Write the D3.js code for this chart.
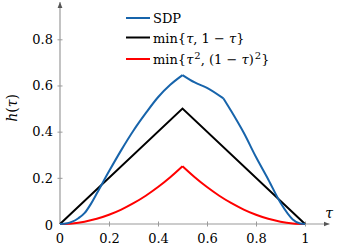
<!DOCTYPE html>
<html>
<head>
<meta charset="utf-8">
<script src="https://cdn.jsdelivr.net/npm/d3@7"></script>
<style>
  body { margin: 0; background: #fff; }
  svg text { font-family: "DejaVu Serif", serif; }
</style>
</head>
<body>
<div id="chart"></div>
<script>
let width = 346,
    height = 247;

// curves
const sdpTau = [0, 0.03, 0.05, 0.075, 0.1, 0.125, 0.15, 0.2, 0.25, 0.3, 0.35, 0.4, 0.45, 0.5, 0.55, 0.6, 0.667, 0.7, 0.75, 0.8, 0.85, 0.9, 0.95, 0.98, 1];
const sdpVal = [0, 0.003, 0.01, 0.025, 0.047, 0.085, 0.132, 0.228, 0.32, 0.405, 0.48, 0.549, 0.603, 0.645, 0.613, 0.59, 0.544, 0.487, 0.395, 0.29, 0.193, 0.092, 0.02, 0.002, 0];
const sdpBreaks = [0.5, 0.667];

const linTau = [0, 0.5, 1];
const linVal = [0, 0.5, 0];

const sqTau = [0, 0.05, 0.1, 0.15, 0.2, 0.25, 0.3, 0.35, 0.4, 0.45, 0.5, 0.55, 0.6, 0.65, 0.7, 0.75, 0.8, 0.85, 0.9, 0.95, 1];
const sqVal = [0, 0.0025, 0.01, 0.0225, 0.04, 0.0625, 0.09, 0.1225, 0.16, 0.2025, 0.25, 0.2025, 0.16, 0.1225, 0.09, 0.0625, 0.04, 0.0225, 0.01, 0.0025, 0];
const sqBreaks = [0.5];

const xTicks = [0, 0.2, 0.4, 0.6, 0.8, 1];
const xTickLabels = ["0", "0.2", "0.4", "0.6", "0.8", "1"];
const yTicks = [0, 0.2, 0.4, 0.6, 0.8];
const yTickLabels = ["0", "0.2", "0.4", "0.6", "0.8"];

const seriesNames = ["SDP", "lin", "sq"];
const seriesColors = ["#1764ab", "#000000", "#ff0000"];

const svg = d3.select("#chart")
  .append("svg")
  .attr("width", width)
  .attr("height", height);

let x = d3.scaleLinear()
  .domain([0, 1])
  .range([60, 305]);

let y = d3.scaleLinear()
  .domain([0, 0.8])
  .range([224, 39.3]);

const axisColor = "#9a9a9a";

// arrow heads
svg.append("defs").append("marker")
  .attr("id", "arrow")
  .attr("viewBox", "0 0 10 10")
  .attr("refX", 10)
  .attr("refY", 5)
  .attr("markerWidth", 6)
  .attr("markerHeight", 6)
  .attr("markerUnits", "userSpaceOnUse")
  .attr("orient", "auto")
  .append("path")
  .attr("d", "M0,1 L10,5 L0,9 Z")
  .attr("fill", "#555");

// axes
let xAxis = svg.append("g")
  .attr("transform", `translate(0,${y(0)})`)
  .call(d3.axisBottom(x).tickValues(xTicks).tickSize(0)
    .tickFormat((d, i) => xTickLabels[i]));

let yAxis = svg.append("g")
  .attr("transform", `translate(${x(0)},0)`)
  .call(d3.axisLeft(y).tickValues(yTicks).tickSize(0)
    .tickFormat((d, i) => yTickLabels[i]));

svg.selectAll(".domain").remove();
xAxis.attr("font-family", null);
yAxis.attr("font-family", null);
xAxis.selectAll("text").attr("dy", null).attr("y", 19).attr("font-size", 13).attr("fill", "#000");
yAxis.selectAll("text").attr("dy", "0.33em").attr("x", -7).attr("font-size", 13).attr("fill", "#000");
xAxis.select(".tick:first-of-type text").remove();
yAxis.select(".tick:first-of-type text").attr("y", 1);

// tick marks centred on the axes
xAxis.selectAll(".tick:not(:first-of-type) line")
  .attr("y1", -2.5).attr("y2", 2.5).attr("stroke", axisColor);
yAxis.selectAll(".tick:not(:first-of-type) line")
  .attr("x1", -2.5).attr("x2", 2.5).attr("stroke", axisColor);

// 0 label under the origin
svg.append("text")
  .attr("x", x(0))
  .attr("y", y(0) + 19)
  .attr("text-anchor", "middle")
  .attr("font-size", 13)
  .text("0");

svg.append("line")
  .attr("x1", x(0)).attr("y1", y(0))
  .attr("x2", x(1.1)).attr("y2", y(0))
  .attr("stroke", axisColor)
  .attr("stroke-width", 1.2)
  .attr("marker-end", "url(#arrow)");

svg.append("line")
  .attr("x1", x(0)).attr("y1", y(0))
  .attr("x2", x(0)).attr("y2", 2)
  .attr("stroke", axisColor)
  .attr("stroke-width", 1.2)
  .attr("marker-end", "url(#arrow)");

// curves, smoothed piece by piece so the corners stay sharp
let smooth = d3.line()
  .x(d => x(d[0]))
  .y(d => y(d[1]))
  .curve(d3.curveMonotoneX);

let straight = d3.line()
  .x(d => x(d[0]))
  .y(d => y(d[1]));

function pieces(taus, vals, breaks) {
  let pts = d3.zip(taus, vals);
  let edges = [0, ...breaks, 1];
  let out = [];
  for (let i = 0; i < edges.length - 1; i++) {
    out.push(pts.filter(p => p[0] >= edges[i] && p[0] <= edges[i + 1]));
  }
  return out;
}

function drawCurve(d, color) {
  svg.append("path")
    .attr("d", d)
    .attr("fill", "none")
    .attr("stroke", color)
    .attr("stroke-width", 2)
    .attr("stroke-linejoin", "miter");
}

drawCurve(pieces(sqTau, sqVal, sqBreaks).map(s => smooth(s)).join(""), seriesColors[2]);
drawCurve(straight(d3.zip(linTau, linVal)), seriesColors[1]);
drawCurve(pieces(sdpTau, sdpVal, sdpBreaks).map(s => smooth(s)).join(""), seriesColors[0]);

// axis labels
svg.append("text")
  .attr("x", 329)
  .attr("y", 218)
  .attr("text-anchor", "middle")
  .attr("font-size", 14)
  .attr("font-style", "italic")
  .text("τ");

let ylab = svg.append("text")
  .attr("transform", "translate(17,108) rotate(-90)")
  .attr("text-anchor", "middle")
  .attr("font-size", 14);
ylab.append("tspan").attr("font-style", "italic").text("h");
ylab.append("tspan").text("(");
ylab.append("tspan").attr("font-style", "italic").text("τ");
ylab.append("tspan").text(")");

// legend
const legend = svg.append("g")
  .attr("transform", "translate(126,18)");

const rowY = [0, 19.5, 41];

seriesNames.forEach((name, i) => {
  let g = legend.append("g").attr("transform", `translate(0,${rowY[i]})`);
  g.append("line")
    .attr("x1", 0).attr("x2", 24)
    .attr("stroke", seriesColors[i])
    .attr("stroke-width", 2);
  let t = g.append("text")
    .attr("x", 27)
    .attr("y", 5)
    .attr("font-size", 13);
  if (name === "SDP") {
    t.text("SDP");
  } else if (name === "lin") {
    t.append("tspan").text("min{");
    t.append("tspan").attr("font-style", "italic").text("τ");
    t.append("tspan").text(", 1 − ");
    t.append("tspan").attr("font-style", "italic").text("τ");
    t.append("tspan").text("}");
  } else {
    t.append("tspan").text("min{");
    t.append("tspan").attr("font-style", "italic").text("τ");
    t.append("tspan").attr("font-size", 10).attr("dx", 1).attr("dy", -5).text("2");
    t.append("tspan").attr("dy", 5).text(", (1 − ");
    t.append("tspan").attr("font-style", "italic").text("τ");
    t.append("tspan").text(")");
    t.append("tspan").attr("font-size", 10).attr("dx", 1).attr("dy", -5).text("2");
    t.append("tspan").attr("dy", 5).text("}");
  }
});
</script>
</body>
</html>
